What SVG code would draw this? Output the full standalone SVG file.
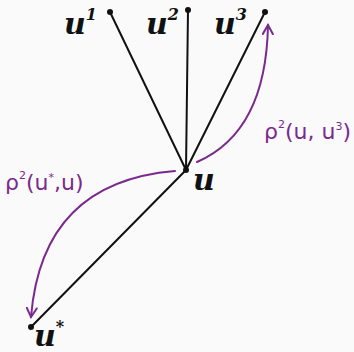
<svg xmlns="http://www.w3.org/2000/svg" width="354" height="352" viewBox="0 0 354 352">
<style>
.edge{stroke:#111;stroke-width:2;fill:none;stroke-linecap:round}
.arc{stroke:#7a2a8c;stroke-width:2;fill:none;stroke-linecap:round}
.dot{fill:#111}
.lbl{font-family:"DejaVu Serif",serif;font-style:italic;font-weight:bold;font-size:30px;fill:#111}
.sup{font-size:16px}
.plbl{font-family:"DejaVu Sans",sans-serif;font-size:22px;fill:#7a2a8c}
.psup{font-size:11px}
</style>
<defs>
<marker id="ah" viewBox="0 0 12 12" refX="10" refY="6" markerWidth="12" markerHeight="12" markerUnits="userSpaceOnUse" orient="auto">
<path d="M1,1 L10,6 L1,11" fill="none" stroke="#7a2a8c" stroke-width="2" stroke-linecap="round"/>
</marker>
</defs>
<rect width="354" height="352" fill="#fafafa"/>
<g id="connectors">
<line class="edge" x1="186" y1="170" x2="110" y2="12"/>
<line class="edge" x1="186" y1="170" x2="188" y2="10"/>
<line class="edge" x1="186" y1="170" x2="265" y2="12"/>
<line class="edge" x1="186" y1="170" x2="31" y2="327"/>
<path class="arc" d="M197,162 Q266,132 268,25" marker-end="url(#ah)"/>
<path class="arc" d="M175,171 Q42,182 31,317" marker-end="url(#ah)"/>
</g>
<g id="u1"><circle class="dot" cx="110" cy="12" r="3"/><text class="lbl" x="64" y="34">u<tspan class="sup" dy="-14">1</tspan></text></g>
<g id="u2"><circle class="dot" cx="188" cy="10" r="3"/><text class="lbl" x="146" y="34">u<tspan class="sup" dy="-14">2</tspan></text></g>
<g id="u3"><circle class="dot" cx="265" cy="12" r="3"/><text class="lbl" x="214" y="34">u<tspan class="sup" dy="-14">3</tspan></text></g>
<g id="u"><circle class="dot" cx="186" cy="170" r="3"/><text class="lbl" x="193" y="190">u</text></g>
<g id="ustar"><circle class="dot" cx="31" cy="327" r="3"/><text class="lbl" x="34" y="346">u<tspan class="sup" dy="-14">*</tspan></text></g>
<g id="label-rho1"><text class="plbl" x="264" y="139">ρ<tspan class="psup" dy="-11">2</tspan><tspan dy="11">(u, u</tspan><tspan class="psup" dy="-9">3</tspan><tspan dy="9">)</tspan></text></g>
<g id="label-rho2"><text class="plbl" x="5" y="190">ρ<tspan class="psup" dy="-11">2</tspan><tspan dy="11">(u</tspan><tspan class="psup" dy="-9">*</tspan><tspan dy="9">,u)</tspan></text></g>
</svg>
